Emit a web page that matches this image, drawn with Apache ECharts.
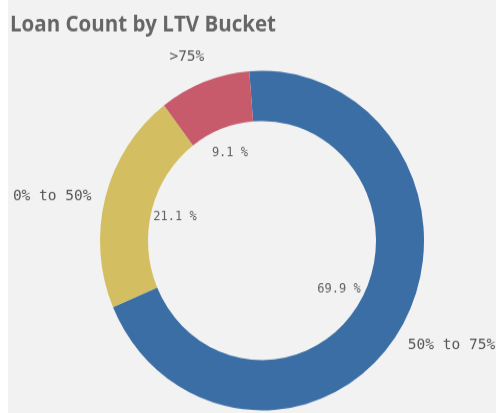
<!DOCTYPE html>
<html>
<head>
<meta charset="utf-8">
<script src="https://cdn.jsdelivr.net/npm/echarts@6/dist/echarts.min.js"></script>
<style>
html,body{margin:0;padding:0;background:#fff;}
#wrap{position:absolute;left:0;top:0;width:496px;height:413px;background:#f2f2f2;overflow:hidden;}
#strip{position:absolute;left:0;top:0;width:8px;height:413px;background:#fff;}
#chart{position:absolute;left:0;top:0;width:496px;height:394px;transform:scaleY(1.0483);transform-origin:0 0;}
</style>
</head>
<body>
<div id="wrap"><div id="strip"></div><div id="chart"></div></div>
<script>
const categories = ['50% to 75%', '0% to 50%', '>75%'];
const values = [69.9, 21.1, 9.1];
const colors = ['#3c6ea6', '#d3bf62', '#c75b6c'];

const data = categories.map((c, i) => ({ name: c, value: values[i], itemStyle: { color: colors[i] } }));
const ghost = categories.map((c, i) => ({ name: c, value: values[i], itemStyle: { color: 'rgba(0,0,0,0)' } }));
const longNames = ghost.map(d => Object.assign({}, d, { label: { show: d.name !== '>75%' } }));
const shortNames = ghost.map(d => Object.assign({}, d, { label: { show: d.name === '>75%' } }));

const chart = echarts.init(document.getElementById('chart'));
const center = [262, 229.5];
const nameLabel = { position: 'inside', formatter: '{b}', fontFamily: 'DejaVu Sans Mono', fontSize: 14.5, color: '#555' };
chart.setOption({
  animation: false,
  title: {
    text: 'Loan Count by LTV Bucket',
    left: 5, top: 9,
    textStyle: { fontFamily: 'Open Sans', fontWeight: 'bold', fontSize: 20.5, color: '#666' }
  },
  series: [
    {
      type: 'pie', center: center, radius: [114, 162], startAngle: 94.5, clockwise: true,
      silent: true, label: { show: false }, labelLine: { show: false },
      itemStyle: { borderWidth: 0 },
      data: data
    },
    {
      type: 'pie', center: center, radius: [56, 118], startAngle: 94.5, clockwise: true,
      silent: true, labelLine: { show: false },
      label: { show: true, position: 'inside', formatter: p => p.value.toFixed(1) + ' %',
        fontFamily: 'DejaVu Sans Mono', fontSize: 12, color: '#5f5f5f' },
      data: ghost
    },
    {
      type: 'pie', center: center, radius: [196, 226], startAngle: 98, clockwise: true,
      silent: true, labelLine: { show: false },
      label: nameLabel,
      data: longNames
    },
    {
      type: 'pie', center: center, radius: [173, 203], startAngle: 96.8, clockwise: true,
      silent: true, labelLine: { show: false },
      label: nameLabel,
      data: shortNames
    }
  ]
});
</script>
</body>
</html>
